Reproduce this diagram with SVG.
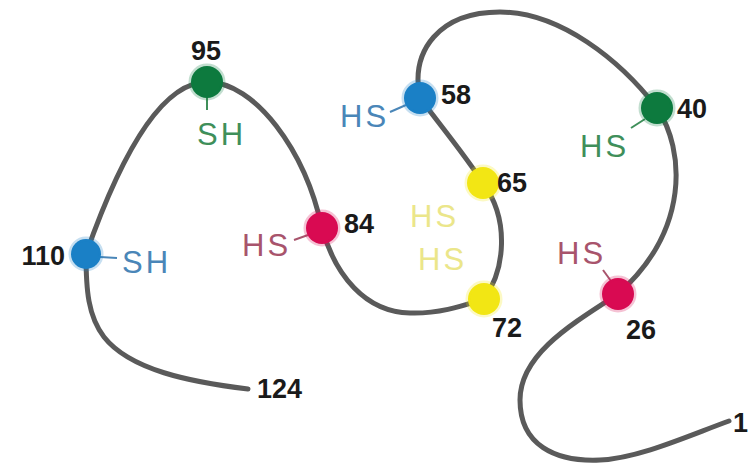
<svg xmlns="http://www.w3.org/2000/svg" width="750" height="463" viewBox="0 0 750 463">
<style>
.chain{fill:none;stroke:#5a5a5a;stroke-width:5;stroke-linecap:round;stroke-linejoin:round}
.num{font-family:"Liberation Sans",Arial,sans-serif;font-weight:bold;font-size:27px;fill:#1a1a1a}
.sh{font-family:"Liberation Sans",Arial,sans-serif;font-size:31px;letter-spacing:3px}
.tick{stroke-width:2;fill:none}
.g{fill:#0d7a3e}.gt{fill:#3f8f5a}.gs{stroke:#3f8f5a}
.b{fill:#1a80c6}.bt{fill:#4a86b8}.bs{stroke:#4a86b8}
.r{fill:#d90a52}.rt{fill:#a8546c}.rs{stroke:#a8546c}
.y{fill:#f2e614}.yt{fill:#ebe68a}
.halo{stroke-width:5;stroke-opacity:0.25}
</style>
<g id="connectors">
<path class="chain" d="M248,389 C190,382 130,370 104,337 C88,316 86,290 86,254 C105,200 150,82 207,82 C255,82 305,150 322,228 C335,275 365,312 410,313 C440,314 465,305 484,299 C505,270 510,220 483,183 C465,155 440,125 420,98 C410,50 440,12 500,12 C560,12 620,60 657,108 C685,150 690,230 618,294 C570,325 520,355 520,400 C520,445 555,462 600,460 C640,458 690,435 729,421"/>
</g>
<g id="n124"><text class="num" x="257" y="398">124</text></g>
<g id="n110">
<line class="tick bs" x1="100" y1="257" x2="117" y2="258"/>
<circle class="b halo" stroke="#1a80c6" cx="86" cy="254" r="15"/>
<text class="num" x="65" y="265" text-anchor="end">110</text>
<text class="sh bt" x="122" y="273">SH</text>
</g>
<g id="n95">
<line class="tick gs" x1="207" y1="96" x2="207" y2="110"/>
<circle class="g halo" stroke="#0d7a3e" cx="207" cy="82" r="16"/>
<text class="num" x="206" y="60" text-anchor="middle">95</text>
<text class="sh gt" x="197" y="145">SH</text>
</g>
<g id="n84">
<line class="tick rs" x1="294" y1="240" x2="308" y2="235"/>
<circle class="r halo" stroke="#d90a52" cx="322" cy="228" r="16"/>
<text class="num" x="344" y="233">84</text>
<text class="sh rt" x="242" y="256">HS</text>
</g>
<g id="n72">
<circle class="y halo" stroke="#f2e614" cx="484" cy="299" r="16"/>
<text class="num" x="492" y="337">72</text>
<text class="sh yt" x="418" y="270">HS</text>
</g>
<g id="n65">
<circle class="y halo" stroke="#f2e614" cx="483" cy="183" r="16"/>
<text class="num" x="497" y="192">65</text>
<text class="sh yt" x="410" y="227">HS</text>
</g>
<g id="n58">
<line class="tick bs" x1="390" y1="112" x2="406" y2="105"/>
<circle class="b halo" stroke="#1a80c6" cx="420" cy="98" r="16"/>
<text class="num" x="441" y="104">58</text>
<text class="sh bt" x="340" y="127">HS</text>
</g>
<g id="n40">
<line class="tick gs" x1="631" y1="128" x2="645" y2="119"/>
<circle class="g halo" stroke="#0d7a3e" cx="657" cy="108" r="16"/>
<text class="num" x="677" y="118">40</text>
<text class="sh gt" x="580" y="157">HS</text>
</g>
<g id="n26">
<line class="tick rs" x1="603" y1="270" x2="611" y2="281"/>
<circle class="r halo" stroke="#d90a52" cx="618" cy="294" r="16"/>
<text class="num" x="626" y="339">26</text>
<text class="sh rt" x="557" y="264">HS</text>
</g>
<g id="n1"><text class="num" x="733" y="432">1</text></g>
</svg>
